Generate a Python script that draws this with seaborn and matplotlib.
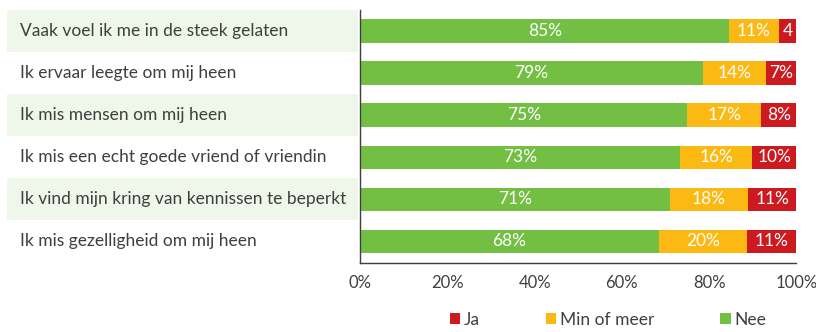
import numpy as np
import pandas as pd
import matplotlib
matplotlib.use("Agg")
import matplotlib.pyplot as plt
from matplotlib.patches import Rectangle
from matplotlib.transforms import blended_transform_factory
import seaborn as sns

# Survey statements (top to bottom) and answer shares in percent
statements = [
    "Vaak voel ik me in de steek gelaten",
    "Ik ervaar leegte om mij heen",
    "Ik mis mensen om mij heen",
    "Ik mis een echt goede vriend of vriendin",
    "Ik vind mijn kring van kennissen te beperkt",
    "Ik mis gezelligheid om mij heen",
]
nee = [84.6, 78.6, 75.0, 73.4, 71.0, 68.4]
min_of_meer = [11.4, 14.4, 17.0, 16.4, 18.0, 20.4]
ja = [4.0, 7.0, 8.0, 10.2, 11.0, 11.2]

series_names = ["Ja", "Min of meer", "Nee"]
x_ticks = [0, 20, 40, 60, 80, 100]

GREEN = "#72BF44"
YELLOW = "#FDB913"
RED = "#CC1A20"
BAND = "#EFF7EA"
TEXT = "#3F3F3F"

sns.set_style("white")
plt.rcParams["font.family"] = ["Lato", "DejaVu Sans"]

df = pd.DataFrame({
    "statement": statements,
    "Nee": nee,
    "Min of meer": min_of_meer,
    "Ja": ja,
})
df["cum_yellow"] = df["Nee"] + df["Min of meer"]
df["cum_red"] = df["cum_yellow"] + df["Ja"]

fig = plt.figure(figsize=(8.16, 3.32), dpi=100)
ax = fig.add_axes([360.3 / 816, 1 - 262.5 / 332, 436 / 816, 252.5 / 332])

# Stacked bars: draw cumulative totals back to front
bw = 0.56
sns.barplot(data=df, y="statement", x="cum_red", color=RED, width=bw,
            orient="h", ax=ax, saturation=1, linewidth=0)
sns.barplot(data=df, y="statement", x="cum_yellow", color=YELLOW, width=bw,
            orient="h", ax=ax, saturation=1, linewidth=0)
sns.barplot(data=df, y="statement", x="Nee", color=GREEN, width=bw,
            orient="h", ax=ax, saturation=1, linewidth=0)

ax.set_xlim(0, 100)
ax.set_ylim(len(statements) - 0.5, -0.5)

# Segment value labels
for i, row in df.iterrows():
    segs = [(0, row["Nee"]), (row["Nee"], row["Min of meer"]),
            (row["cum_yellow"], row["Ja"])]
    for start, width in segs:
        label = f"{round(width)}%" if width >= 5 else f"{round(width)}"
        ax.text(start + width / 2, i, label, ha="center", va="center",
                color="white", fontsize=12.5)

# Alternating light row bands behind the statement labels
trans = blended_transform_factory(fig.transFigure, ax.transData)
for i in range(0, len(statements), 2):
    fig.patches.append(Rectangle((7 / 816, i - 0.5), (358 - 7) / 816, 1.0,
                                 transform=trans, facecolor=BAND,
                                 edgecolor="none", zorder=-5))
for i, s in enumerate(statements):
    fig.text(20 / 816, i, s, transform=trans, ha="left", va="center",
             color=TEXT, fontsize=12.5, zorder=5)

# Axes styling
ax.set_yticks(np.arange(-0.5, len(statements), 1.0))
ax.set_yticklabels([])
ax.set_xticks(x_ticks)
ax.set_xticklabels([f"{t}%" for t in x_ticks], color=TEXT, fontsize=12)
ax.set_xlabel("")
ax.set_ylabel("")
ax.tick_params(axis="both", direction="out", length=4, width=1, color=TEXT)
ax.tick_params(axis="x", pad=5)
sns.despine(ax=ax, top=True, right=True)
for side in ("left", "bottom"):
    ax.spines[side].set_color(TEXT)
    ax.spines[side].set_linewidth(1)

handles = [Rectangle((0, 0), 1, 1, facecolor=c, edgecolor="none")
           for c in (RED, YELLOW, GREEN)]
fig.legend(handles, series_names, loc="center", ncol=3,
           bbox_to_anchor=(608 / 816, 1 - 320 / 332), frameon=False,
           fontsize=12.5, handlelength=0.6, handleheight=0.6,
           handletextpad=0.2, columnspacing=3.8, labelcolor=TEXT)

fig.savefig("out.png", dpi=100)
